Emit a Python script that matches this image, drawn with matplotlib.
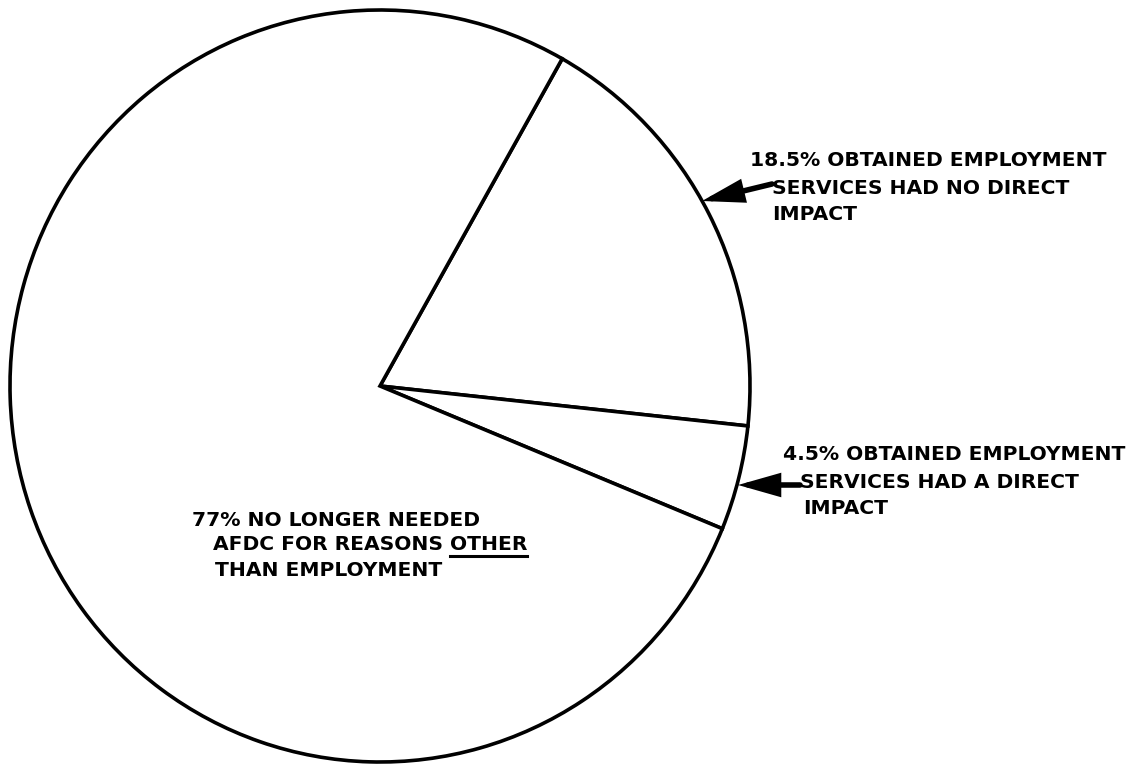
import matplotlib
matplotlib.use("Agg")
import matplotlib.pyplot as plt

# shares of AFDC case closings (percent)
shares = [18.5, 4.5, 77.0]
label_lines = [
    ["18.5% OBTAINED EMPLOYMENT", "SERVICES HAD NO DIRECT", "IMPACT"],
    ["4.5% OBTAINED EMPLOYMENT", "SERVICES HAD A DIRECT", "IMPACT"],
    ["77% NO LONGER NEEDED", "AFDC FOR REASONS OTHER", "THAN EMPLOYMENT"],
]
underlined_word = "OTHER"

W, H = 1137, 766
fig = plt.figure(figsize=(W / 100, H / 100), dpi=100)
fig.patch.set_facecolor("white")

# pie axes, placed in pixel terms
left, right, top, bottom = 10, 750, 10, 762
ax = fig.add_axes([left / W, (H - bottom) / H, (right - left) / W, (bottom - top) / H])
ax.pie(shares, startangle=60.5, counterclock=False, radius=1.0,
       wedgeprops=dict(facecolor="white", edgecolor="black", linewidth=2.6))
ax.set_aspect("auto")
ax.set_xlim(-1.0, 1.0)
ax.set_ylim(-1.0, 1.0)
ax.axis("off")

# overlay in pixel coordinates for labels and arrows
ov = fig.add_axes([0, 0, 1, 1])
ov.set_xlim(0, W)
ov.set_ylim(H, 0)
ov.axis("off")
ov.patch.set_alpha(0)

font = dict(family="DejaVu Sans", fontweight="bold", fontsize=14.6, color="black", va="center", ha="left")

# (x, y) of each line's start
positions = [
    [(750, 161), (772, 188), (772, 215)],
    [(783, 455), (800, 483), (803, 508)],
    [(192, 521), (213, 545), (215, 570)],
]
texts = []
for lines, pos in zip(label_lines, positions):
    for s, (x, y) in zip(lines, pos):
        texts.append(ov.text(x, y, s, **font))

arrow = dict(arrowstyle="-|>,head_length=0.95,head_width=0.27", color="black",
             lw=4.0, mutation_scale=23, shrinkA=0, shrinkB=0, joinstyle="miter")
ov.annotate("", xy=(702, 201), xytext=(772, 184), arrowprops=arrow)
ov.annotate("", xy=(738, 485), xytext=(800, 485), arrowprops=arrow)

# underline the word OTHER at the end of its line
fig.canvas.draw()
rend = fig.canvas.get_renderer()
line_txt = texts[7]
tmp = ov.text(0, 0, underlined_word, **font)
w_word = tmp.get_window_extent(rend).width
tmp.remove()
bb = line_txt.get_window_extent(rend)
inv = ov.transData.inverted()
x1, y1 = inv.transform((bb.x1, bb.y0))
x0, _ = inv.transform((bb.x1 - w_word, bb.y0))
ov.plot([x0, x1], [y1 + 1, y1 + 1], color="black", lw=2.2)

fig.savefig("out.png", dpi=100, facecolor="white")
